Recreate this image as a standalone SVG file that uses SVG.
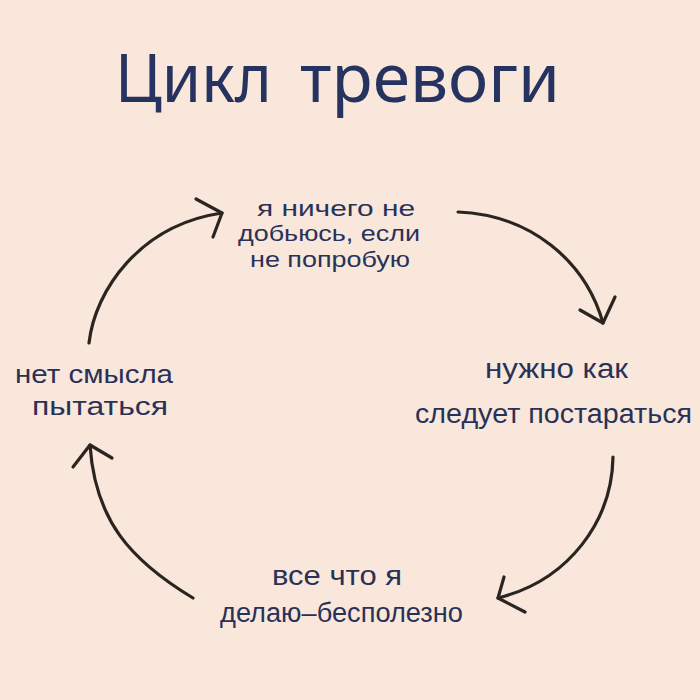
<svg xmlns="http://www.w3.org/2000/svg" width="700" height="700" viewBox="0 0 700 700">
  <style>
    .bg { fill: #f8e7da; }
    .title { font-family: "Noto Sans", "DejaVu Sans", sans-serif; font-size: 68px; fill: #26325f; }
    .lbl { font-family: "Liberation Sans", "Noto Sans", sans-serif; fill: #2a3158; }
    .arc { fill: none; stroke: #2b2521; stroke-width: 3.2; stroke-linecap: round; stroke-linejoin: round; }
  </style>
  <rect class="bg" x="0" y="0" width="700" height="700"/>

  <g id="title">
    <text class="title" x="115" y="102" textLength="157" lengthAdjust="spacingAndGlyphs">Цикл</text>
    <text class="title" x="300" y="102" textLength="260" lengthAdjust="spacingAndGlyphs">тревоги</text>
  </g>

  <g id="node-top" class="lbl" font-size="22">
    <text x="257" y="216" textLength="158" lengthAdjust="spacingAndGlyphs">я ничего не</text>
    <text x="238" y="241" textLength="182" lengthAdjust="spacingAndGlyphs">добьюсь, если</text>
    <text x="250" y="267" textLength="160" lengthAdjust="spacingAndGlyphs">не попробую</text>
  </g>

  <g id="node-right" class="lbl" font-size="27">
    <text x="485" y="378" textLength="143" lengthAdjust="spacingAndGlyphs">нужно как</text>
    <text x="415" y="423" textLength="277" lengthAdjust="spacingAndGlyphs">следует постараться</text>
  </g>

  <g id="node-bottom" class="lbl" font-size="27">
    <text x="272" y="585" textLength="130" lengthAdjust="spacingAndGlyphs">все что я</text>
    <text x="220" y="622" textLength="243" lengthAdjust="spacingAndGlyphs">делаю–бесполезно</text>
  </g>

  <g id="node-left" class="lbl" font-size="26">
    <text x="15" y="383" textLength="158" lengthAdjust="spacingAndGlyphs">нет смысла</text>
    <text x="32" y="415" textLength="136" lengthAdjust="spacingAndGlyphs">пытаться</text>
  </g>

  <g id="connectors">
    <path class="arc" d="M89,343 C95,290 140,225 222,213"/>
    <polyline class="arc" points="196,199 222,213 213,237"/>

    <path class="arc" d="M458,212 C530,215 585,260 603,323"/>
    <polyline class="arc" points="580,310 603,323 615,297"/>

    <path class="arc" d="M613,457 C612,520 570,580 498,598"/>
    <polyline class="arc" points="504,577 498,598 525,612"/>

    <path class="arc" d="M193,598 C130,560 95,520 90,445"/>
    <polyline class="arc" points="73,467 90,445 112,458"/>
  </g>
</svg>
